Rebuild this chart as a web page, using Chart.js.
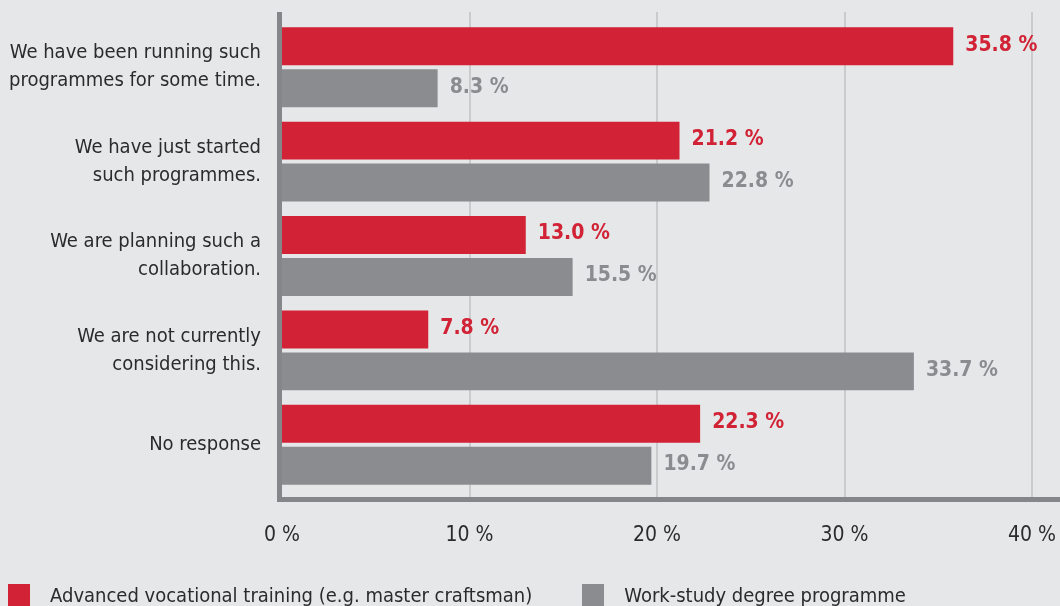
<!DOCTYPE html>
<html>
<head>
<meta charset="utf-8">
<script src="https://cdn.jsdelivr.net/npm/chart.js@4"></script>
<style>
  html, body { margin: 0; padding: 0; background: #e6e7e9; }
  #wrap { position: relative; width: 1060px; height: 606px; }
  #legend { position: absolute; left: 8px; top: 583px; display: flex; font: 20px 'Liberation Sans Narrow', 'DejaVu Sans Condensed', 'Roboto', sans-serif; color: #2b2b2b; }
  #legend .item { display: flex; align-items: center; }
  #legend .box { width: 22px; height: 22px; margin-right: 20px; }
</style>
</head>
<body>
<div id="wrap">
  <canvas id="chart" width="1060" height="606"></canvas>
  <div id="legend"></div>
</div>
<script>
document.addEventListener('DOMContentLoaded', () => {

  const categories = [
    ['We have been running such', 'programmes for some time.'],
    ['We have just started', 'such programmes.'],
    ['We are planning such a', 'collaboration.'],
    ['We are not currently', 'considering this.'],
    'No response',
  ];
  const seriesNames = ['Advanced vocational training (e.g. master craftsman)', 'Work-study degree programme'];
  const advanced  = [35.8, 21.2, 13.0, 7.8, 22.3];
  const workStudy = [8.3, 22.8, 15.5, 33.7, 19.7];
  const xTicks    = [0, 10, 20, 30, 40];

  const RED  = '#d12335';
  const GREY = '#8b8c90';
  const FONT = "'Liberation Sans Narrow', 'DejaVu Sans Condensed', 'Roboto', sans-serif";

  /* ── axes, grid and value labels ─────────────────────── */
  const frame = {
    id: 'frame',
    beforeDatasetsDraw(chart) {
      const { ctx, chartArea: a, scales: { x } } = chart;
      ctx.save();
      ctx.strokeStyle = '#cacbcd';
      ctx.lineWidth = 2;
      xTicks.slice(1).forEach(v => {
        const px = Math.round(x.getPixelForValue(v));
        ctx.beginPath();
        ctx.moveTo(px, a.top - 8);
        ctx.lineTo(px, a.bottom + 5);
        ctx.stroke();
      });
      ctx.restore();
    },
    afterDatasetsDraw(chart) {
      const { ctx, chartArea: a } = chart;
      ctx.save();
      ctx.fillStyle = '#858689';
      ctx.fillRect(a.left - 5, a.top - 8, 5, a.bottom - a.top + 18);
      ctx.fillRect(a.left - 5, a.bottom + 5, chart.width - a.left + 5, 5);

      ctx.font = 'bold 21px ' + FONT;
      ctx.textBaseline = 'middle';
      ctx.textAlign = 'left';
      chart.data.datasets.forEach((ds, i) => {
        chart.getDatasetMeta(i).data.forEach((bar, j) => {
          ctx.fillStyle = ds.backgroundColor;
          ctx.fillText(ds.data[j].toFixed(1) + ' %', bar.x + 12, bar.y - 1);
        });
      });
      ctx.restore();
    },
  };

  const chart = new Chart(document.getElementById('chart'), {
    type: 'bar',
    data: {
      labels: categories,
      datasets: [
        { label: seriesNames[0], data: advanced,  backgroundColor: RED },
        { label: seriesNames[1], data: workStudy, backgroundColor: GREY },
      ],
    },
    options: {
      indexAxis: 'y',
      responsive: false,
      animation: false,
      categoryPercentage: 0.889,
      barPercentage: 0.905,
      layout: { padding: { top: 20, right: 28, left: 0, bottom: 0 } },
      plugins: {
        legend: { display: false },
        tooltip: { enabled: false },
      },
      scales: {
        x: {
          min: 0, max: 40,
          afterBuildTicks: s => { s.ticks = xTicks.map(v => ({ value: v })); },
          afterFit: s => { s.height = 114; s.paddingLeft = 0; s.paddingRight = 0; },
          grid: { display: false, drawTicks: false },
          border: { display: false },
          ticks: {
            padding: 31,
            color: '#2b2b2b',
            font: { family: FONT, size: 21 },
            callback: v => v + ' %',
          },
        },
        y: {
          afterFit: s => { s.width = 282; s.paddingTop = 0; s.paddingBottom = 0; },
          grid: { display: false, drawTicks: false },
          border: { display: false },
          ticks: {
            padding: 21,
            color: '#2b2b2b',
            font: { family: FONT, size: 20, lineHeight: 1.4 },
          },
        },
      },
    },
    plugins: [frame],
  });

  const legend = document.getElementById('legend');
  chart.data.datasets.forEach((ds, i) => {
    const item = document.createElement('div');
    item.className = 'item';
    if (i > 0) item.style.marginLeft = '50px';
    const box = document.createElement('span');
    box.className = 'box';
    box.style.background = ds.backgroundColor;
    const txt = document.createElement('span');
    txt.textContent = ds.label;
    item.appendChild(box);
    item.appendChild(txt);
    legend.appendChild(item);
  });

});
</script>
</body>
</html>
